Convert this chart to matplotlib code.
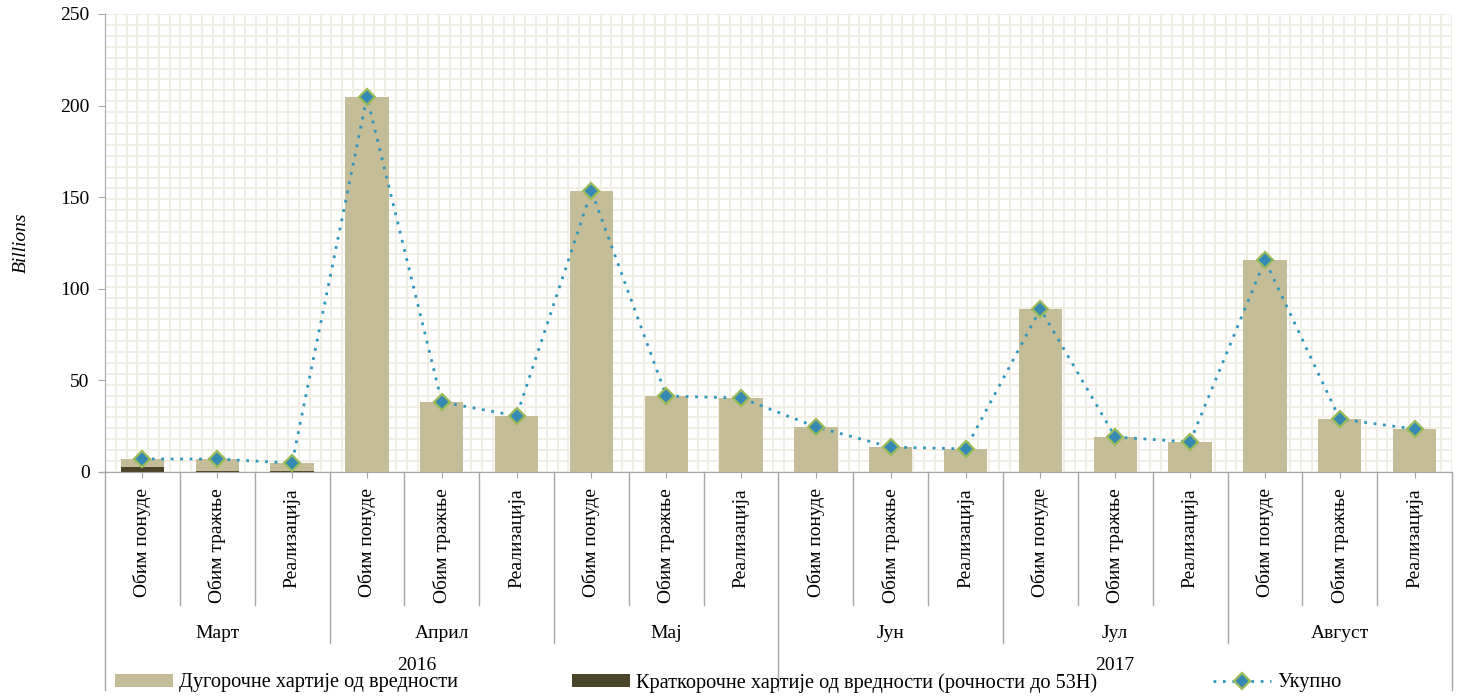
import matplotlib
matplotlib.use('Agg')
import matplotlib.pyplot as plt
import matplotlib.transforms as mtransforms
from matplotlib.patches import Patch
from matplotlib.lines import Line2D
import numpy as np

plt.rcParams['font.family'] = ['Liberation Serif', 'DejaVu Serif']

# подаци (милијарде)
sub_labels = ['Обим понуде', 'Обим тражње', 'Реализација'] * 6
months = ['Март', 'Април', 'Мај', 'Јун', 'Јул', 'Август']
years = ['2016', '2017']
long_term = [4.6, 6.6, 4.6, 204.7, 38.2, 30.6, 153.4, 41.5, 40.4,
             24.6, 13.6, 12.6, 89.0, 19.1, 16.4, 115.7, 28.9, 23.5]
short_term = [2.5, 0.5, 0.3, 0, 0, 0, 0, 0, 0,
              0, 0, 0, 0, 0, 0, 0, 0, 0]
total = [7.1, 7.1, 4.9, 204.7, 38.2, 30.6, 153.4, 41.5, 40.4,
         24.6, 13.6, 12.6, 89.0, 19.1, 16.4, 115.7, 28.9, 23.5]

beige = '#c4bd97'
dark = '#4a452a'
line_c = '#2f97bd'
sep_c = '#a6a6a6'
fs = 14

fig = plt.figure(figsize=(14.63, 6.96), dpi=100)
ax = fig.add_axes([105 / 1463, 1 - 472 / 696, 1347 / 1463, 458 / 696])

x = np.arange(len(sub_labels))

# позадина као шаблон мреже
for f in np.linspace(0, 1, 43):
    ax.axhline(f * 250, color='#f1eee6', lw=1.4, zorder=0)
for f in np.linspace(-0.5, 17.5, 126):
    ax.axvline(f, color='#f1eee6', lw=1.4, zorder=0)

ax.bar(x, short_term, width=0.58, color=dark, zorder=2)
ax.bar(x, long_term, width=0.58, bottom=short_term, color=beige, zorder=2)
ax.plot(x, total, linestyle=(0, (1, 2.4)), lw=2, color=line_c,
        marker='D', markersize=8.5, markerfacecolor='#3589b3',
        markeredgecolor='#9bbb59', markeredgewidth=1.6, zorder=3)

ax.set_xlim(-0.5, 17.5)
ax.set_ylim(0, 250)
ax.set_yticks([0, 50, 100, 150, 200, 250])
ax.tick_params(axis='y', labelsize=fs, length=5, color=sep_c, pad=6)
ax.set_xticks(x)
ax.set_xticklabels([])
ax.tick_params(axis='x', length=4, color=sep_c)
for s in ['top', 'right']:
    ax.spines[s].set_visible(False)
ax.spines['left'].set_color(sep_c)
ax.spines['bottom'].set_color(sep_c)
ax.set_ylabel('Billions', fontsize=fs, style='italic', labelpad=22)

# хијерархијска x оса
tr = mtransforms.blended_transform_factory(ax.transData, fig.transFigure)


def fy(py):
    return 1 - py / 696


for i, lab in enumerate(sub_labels):
    ax.text(i, fy(488), lab, transform=tr, rotation=90, ha='center',
            va='top', fontsize=fs)
for i in range(1, 18):
    if i == 9:
        y_end = 690
    elif i % 3 == 0:
        y_end = 643
    else:
        y_end = 605
    ax.plot([i - 0.5, i - 0.5], [fy(472), fy(y_end)], transform=tr,
            color=sep_c, lw=1, clip_on=False)
for xe in [-0.5, 17.5]:
    ax.plot([xe, xe], [fy(472), fy(690)], transform=tr,
            color=sep_c, lw=1, clip_on=False)
ax.plot([-0.56, -0.5], [fy(472), fy(472)], transform=tr,
        color=sep_c, lw=1, clip_on=False)
for m, lab in enumerate(months):
    ax.text(3 * m + 1, fy(633), lab, transform=tr, ha='center',
            va='center', fontsize=fs)
ax.text(3.67, fy(665), years[0], transform=tr, ha='center', va='center',
        fontsize=fs)
ax.text(13.0, fy(665), years[1], transform=tr, ha='center', va='center',
        fontsize=fs)

# легенда
handles = [
    Patch(facecolor=beige, label='Дугорочне хартије од вредности'),
    Patch(facecolor=dark, label='Краткорочне хартије од вредности (рочности до 53Н)'),
    Line2D([], [], linestyle=(0, (1, 2.4)), lw=2, color=line_c, marker='D',
           markersize=8.5, markerfacecolor='#3589b3', markeredgecolor='#9bbb59',
           markeredgewidth=1.6, label='Укупно'),
]
for h, px in zip(handles, [115, 572, 1213]):
    fig.legend(handles=[h], loc='center left',
               bbox_to_anchor=(px / 1463, fy(683)), frameon=False,
               fontsize=14.6, handlelength=2.85, handleheight=0.6,
               handletextpad=0.3, borderaxespad=0, borderpad=0)

fig.savefig('out.png', dpi=100)
